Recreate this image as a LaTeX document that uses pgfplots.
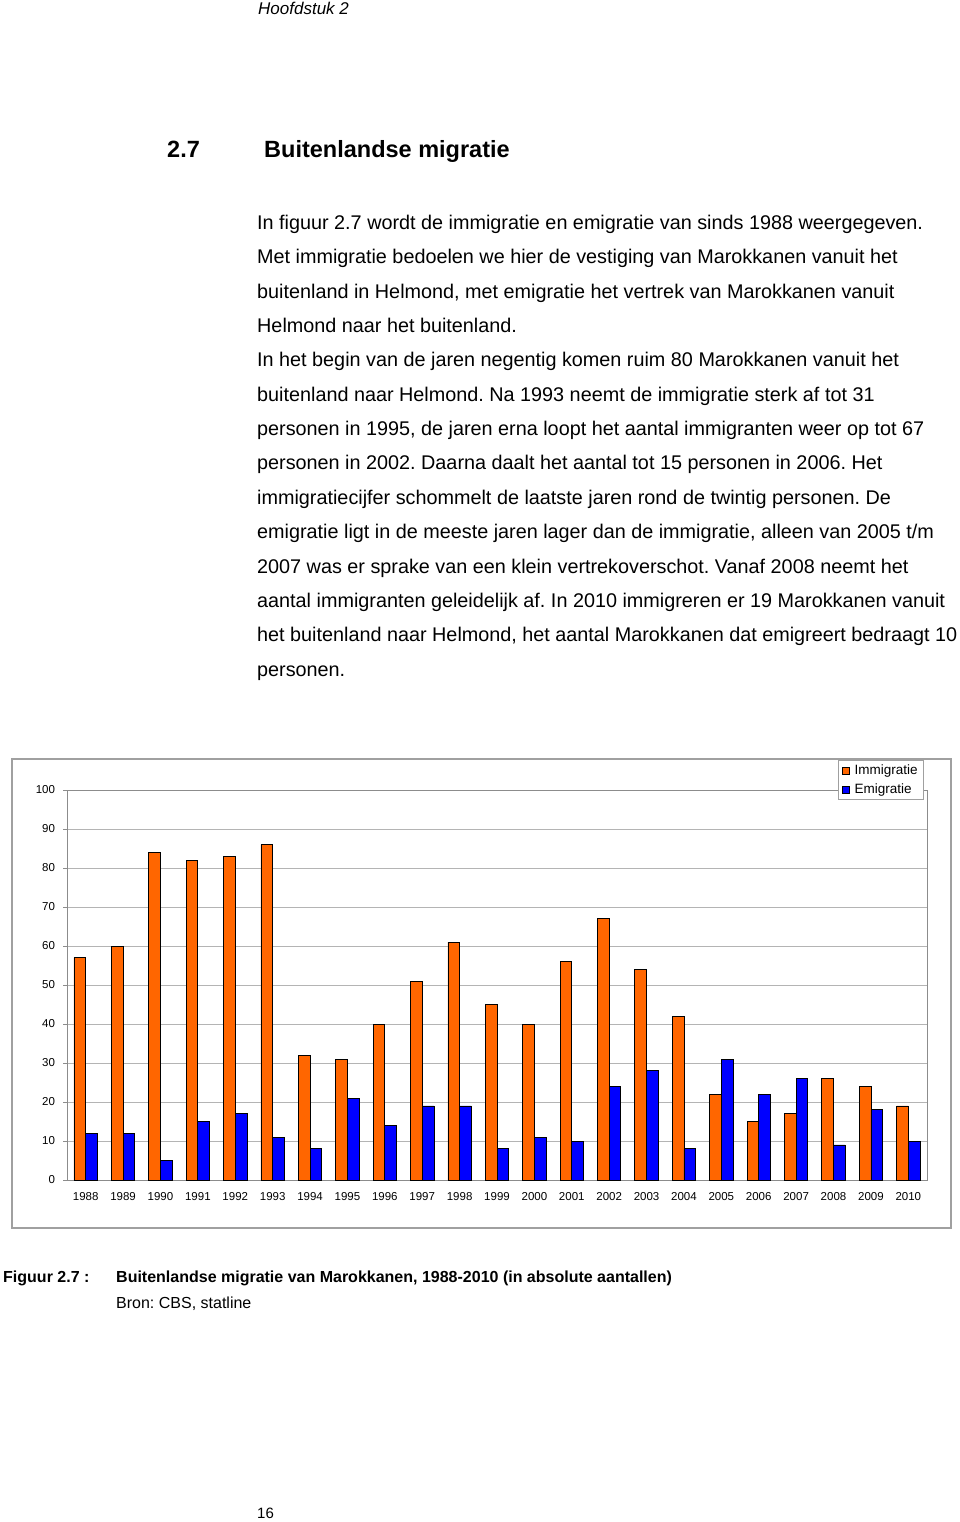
\documentclass[border=0pt]{standalone}
\usepackage{fontspec}
\setmainfont{Liberation Sans}
\usepackage{pgfplots}
\pgfplotsset{compat=1.18}
\definecolor{imm}{HTML}{FF6600}
\definecolor{emi}{HTML}{0000FF}
\definecolor{frame}{HTML}{A0A0A0}
\definecolor{axisgray}{HTML}{8C8C8C}
\definecolor{gridgray}{HTML}{B4B4B4}
\newcommand\body{\fontsize{19.8pt}{24pt}\selectfont}
\pgfplotstableread{
x imm emi
0 57 12
1 60 12
2 84 5
3 82 15
4 83 17
5 86 11
6 32 8
7 31 21
8 40 14
9 51 19
10 61 19
11 45 8
12 40 11
13 56 10
14 67 24
15 54 28
16 42 8
17 22 31
18 15 22
19 17 26
20 26 9
21 24 18
22 19 10
}\migdata
\begin{document}
\frenchspacing
\begin{tikzpicture}
\fill[white] (0,0) rectangle (960pt,-1522pt);
% header
\node[anchor=base west, inner sep=0, font=\fontsize{17pt}{20pt}\selectfont\itshape] at (258pt,-15pt) {Hoofdstuk 2};
\node[anchor=base west, inner sep=0, font=\fontsize{23.5pt}{28pt}\selectfont\bfseries] at (167pt,-158pt) {2.7};
\node[anchor=base west, inner sep=0, font=\fontsize{23.5pt}{28pt}\selectfont\bfseries] at (264pt,-158pt) {Buitenlandse migratie};
% body text
\foreach \t [count=\i from 0] in {
{In figuur 2.7 wordt de immigratie en emigratie van sinds 1988 weergegeven.},
{Met immigratie bedoelen we hier de vestiging van Marokkanen vanuit het},
{buitenland in Helmond, met emigratie het vertrek van Marokkanen vanuit},
{Helmond naar het buitenland.},
{In het begin van de jaren negentig komen ruim 80 Marokkanen vanuit het},
{buitenland naar Helmond. Na 1993 neemt de immigratie sterk af tot 31},
{personen in 1995, de jaren erna loopt het aantal immigranten weer op tot 67},
{personen in 2002. Daarna daalt het aantal tot 15 personen in 2006. Het},
{immigratiecijfer schommelt de laatste jaren rond de twintig personen. De},
{emigratie ligt in de meeste jaren lager dan de immigratie, alleen van 2005 t/m},
{2007 was er sprake van een klein vertrekoverschot. Vanaf 2008 neemt het},
{aantal immigranten geleidelijk af. In 2010 immigreren er 19 Marokkanen vanuit},
{het buitenland naar Helmond, het aantal Marokkanen dat emigreert bedraagt 10},
{personen.}}
{\node[anchor=base west, inner sep=0, font=\body] at (257pt,{-229.3pt-34.37pt*\i}) {\t};}
% chart frame
\draw[frame, line width=1.2pt] (12pt,-759pt) rectangle (951pt,-1228pt);
\begin{axis}[
  at={(67pt,-1180pt)}, anchor=south west,
  scale only axis, width=860pt, height=390pt,
  xmin=-0.5, xmax=22.5, ymin=0, ymax=100,
  ybar=0pt, bar width=11.7pt,
  xtick={0,...,22},
  xticklabels={1988,1989,1990,1991,1992,1993,1994,1995,1996,1997,1998,1999,2000,2001,2002,2003,2004,2005,2006,2007,2008,2009,2010},
  minor xtick={-0.5,0.5,...,22.5},
  ytick={0,10,...,100},
  tick pos=left,
  tick align=outside,
  major tick length=4pt, minor tick length=4pt,
  x tick style={draw=none},
  minor x tick style={axisgray},
  y tick style={axisgray},
  axis line style={axisgray, line width=0.9pt},
  ymajorgrids, grid style={gridgray, line width=0.9pt},
  /pgf/number format/assume math mode=true,
  tick label style={font=\fontsize{11.5pt}{13pt}\selectfont},
  yticklabel style={xshift=-4.5pt},
  xticklabel style={yshift=-4.5pt},
  legend style={at={(rel axis cs:0.9965,1.0769)}, anchor=north east,
    draw=frame, line width=0.8pt, fill=white,
    font=\fontsize{13.5pt}{15pt}\selectfont,
    inner xsep=4pt, inner ysep=1.5pt,
    nodes={inner xsep=2pt, inner ysep=3pt},
    row sep=1.5pt,
    /tikz/every odd column/.append style={column sep=3pt}},
  legend cell align=left,
  legend image code/.code={\draw[#1, line width=0.6pt] (0pt,-3.5pt) rectangle (7pt,3.5pt);},
]
\addplot[fill=imm, draw=black, line width=0.8pt] table[x=x, y=imm] {\migdata};
\addplot[fill=emi, draw=black, line width=0.8pt] table[x=x, y=emi] {\migdata};
\legend{Immigratie, Emigratie}
\end{axis}
% caption
\node[anchor=base west, inner sep=0, font=\fontsize{16pt}{19pt}\selectfont\bfseries] at (3pt,-1282.3pt) {Figuur 2.7 :};
\node[anchor=base west, inner sep=0, font=\fontsize{16pt}{19pt}\selectfont\bfseries] at (116pt,-1282.3pt) {Buitenlandse migratie van Marokkanen, 1988-2010 (in absolute aantallen)};
\node[anchor=base west, inner sep=0, font=\fontsize{16pt}{19pt}\selectfont] at (116pt,-1308.3pt) {Bron: CBS, statline};
\node[anchor=base west, inner sep=0, font=\fontsize{15pt}{18pt}\selectfont] at (257pt,-1518pt) {16};
\end{tikzpicture}
\end{document}
